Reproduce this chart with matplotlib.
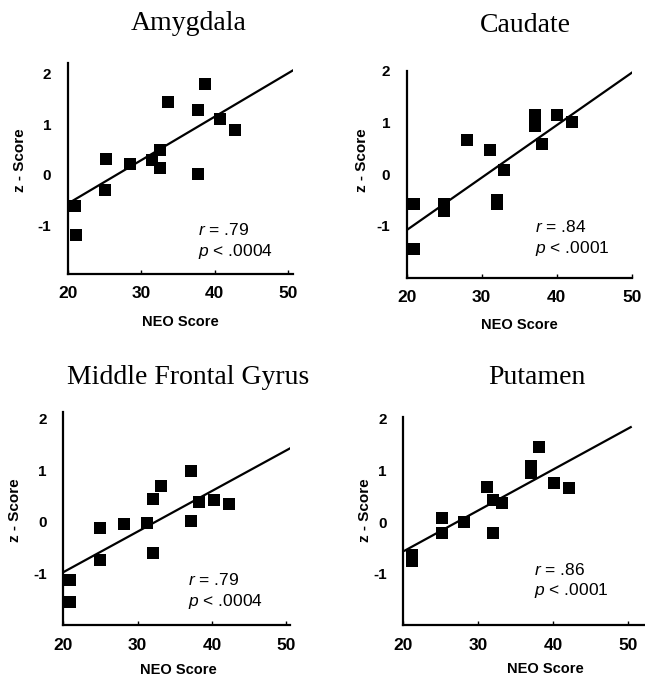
import matplotlib
matplotlib.use("Agg")
import matplotlib.pyplot as plt

plt.rcParams['font.family'] = ['Liberation Sans', 'DejaVu Sans']
plt.rcParams['axes.unicode_minus'] = False
plt.rcParams['mathtext.fontset'] = 'custom'
plt.rcParams['mathtext.it'] = 'Liberation Sans:italic'
plt.rcParams['mathtext.rm'] = 'Liberation Sans'

# NEO score vs z-score, one set per region
titles = ['Amygdala', 'Caudate', 'Middle Frontal Gyrus', 'Putamen']

amyg_x = [20.95, 21.1, 25.2, 25.1, 28.4, 31.4, 32.5, 32.5, 33.6, 37.7, 37.8, 38.7, 40.7, 42.8]
amyg_y = [-0.61, -1.19, 0.31, -0.29, 0.21, 0.29, 0.49, 0.14, 1.44, 0.01, 1.27, 1.78, 1.10, 0.88]

caud_x = [21.0, 21.0, 25.0, 25.0, 28.0, 31.1, 32.0, 32.0, 33.0, 37.1, 37.1, 38.1, 40.1, 42.1]
caud_y = [-0.58, -1.44, -0.58, -0.71, 0.66, 0.46, -0.49, -0.58, 0.09, 1.14, 0.93, 0.58, 1.15, 1.01]

mfg_x = [20.9, 20.9, 25.0, 24.9, 28.1, 31.2, 32.1, 32.1, 33.2, 37.2, 37.2, 38.2, 40.3, 42.3]
mfg_y = [-1.12, -1.54, -0.12, -0.73, -0.03, -0.02, 0.45, -0.60, 0.69, 0.99, 0.01, 0.39, 0.42, 0.34]

put_x = [21.1, 21.1, 25.1, 25.1, 28.1, 31.1, 32.0, 32.0, 33.1, 37.0, 37.0, 38.1, 40.1, 42.1]
put_y = [-0.63, -0.76, 0.09, -0.20, 0.01, 0.69, 0.43, -0.21, 0.38, 1.08, 0.96, 1.46, 0.75, 0.66]

# regression line end points
line_x = [[20.05, 51.1], [20.0, 50.0], [20.0, 50.6], [20.2, 50.3]]
line_y = [[-0.56, 2.09], [-1.08, 1.96], [-0.97, 1.43], [-0.55, 1.84]]

r_text = ['.79', '.84', '.79', '.86']
p_text = ['.0004', '.0001', '.0004', '.0001']

x_ticks = [20, 30, 40, 50]
y_ticks = [-1, 0, 1, 2]

xs = [amyg_x, caud_x, mfg_x, put_x]
ys = [amyg_y, caud_y, mfg_y, put_y]

W, H = 645, 678
fig = plt.figure(figsize=(W / 100, H / 100), dpi=100)

# layout in pixels: left, top, right, bottom of axes; xlim, ylim; text spots
panels = [
    dict(box=(68, 63, 293, 274), xlim=(20, 50.7), ylim=(-1.95, 2.2),
         title=(189, 24), ylab=(20, 160), xlab=(180, 322), ann=(37.7, -1.08, -1.5)),
    dict(box=(406.7, 70.7, 631.7, 277.7), xlim=(20, 50), ylim=(-2.0, 2.0),
         title=(525, 26), ylab=(361.7, 160), xlab=(519, 325), ann=(37.1, -1.02, -1.44)),
    dict(box=(63.3, 411.7, 290, 625), xlim=(20, 50.5), ylim=(-1.99, 2.13),
         title=(188, 378), ylab=(15, 510), xlab=(178, 670), ann=(36.8, -1.12, -1.54)),
    dict(box=(403.3, 417.3, 645, 625), xlim=(20, 52.2), ylim=(-1.99, 2.03),
         title=(537, 378), ylab=(365, 510), xlab=(545, 669), ann=(37.4, -0.92, -1.32)),
]

for i, pn in enumerate(panels):
    l, t, r, b = pn['box']
    ax = fig.add_axes([l / W, 1 - b / H, (r - l) / W, (b - t) / H])
    ax.scatter(xs[i], ys[i], marker='s', s=78, color='black', zorder=3, linewidths=0)
    ax.plot(line_x[i], line_y[i], color='black', lw=1.6, zorder=2)
    ax.set_xlim(*pn['xlim'])
    ax.set_ylim(*pn['ylim'])
    for s in ['top', 'right']:
        ax.spines[s].set_visible(False)
    for s in ['left', 'bottom']:
        ax.spines[s].set_linewidth(1.6)
    ax.set_xticks(x_ticks)
    ax.set_xticklabels([str(v) for v in x_ticks], fontsize=12.5, fontweight='bold')
    ax.set_yticks(y_ticks)
    ax.set_yticklabels([str(v) for v in y_ticks], fontsize=11, fontweight='bold')
    ax.tick_params(axis='x', direction='in', length=3, width=1, pad=9)
    ax.tick_params(axis='y', direction='in', length=0, pad=12)
    ax.patch.set_alpha(0)

    ax_x, r_y, p_y = pn['ann']
    ax.text(ax_x, r_y, r'$\mathit{r}$ = ' + r_text[i], fontsize=12.5, va='center', ha='left')
    ax.text(ax_x, p_y, r'$\mathit{p}$ < ' + p_text[i], fontsize=12.5, va='center', ha='left')

    tx, ty = pn['title']
    fig.text(tx / W, 1 - ty / H, titles[i], fontsize=20, family='Liberation Serif',
             ha='center', va='center')
    yx, yy = pn['ylab']
    fig.text(yx / W, 1 - yy / H, 'z - Score', fontsize=11, fontweight='bold',
             rotation=90, ha='center', va='center')
    xx, xy = pn['xlab']
    fig.text(xx / W, 1 - xy / H, 'NEO Score', fontsize=10.5, fontweight='bold',
             ha='center', va='center')

fig.savefig('out.png', dpi=100)
